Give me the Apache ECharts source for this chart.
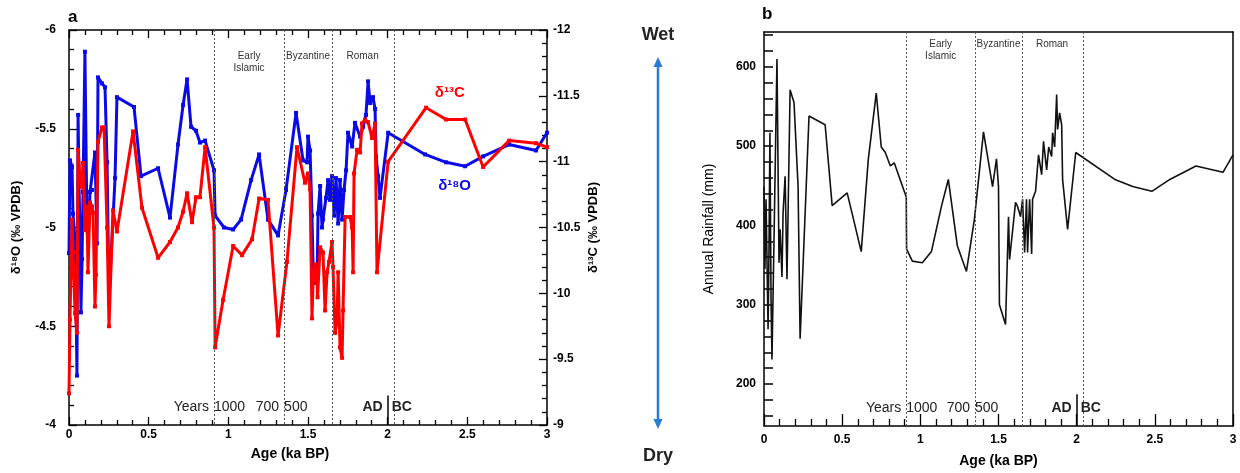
<!DOCTYPE html>
<html><head><meta charset="utf-8">
<script src="https://cdn.jsdelivr.net/npm/echarts@6/dist/echarts.min.js"></script>
<style>html,body{margin:0;padding:0;background:#fff}#c{width:1240px;height:473px}</style>
</head><body><div id="c"></div>
<script>
// ---- data ----
const o18Age = [0.000,0.006,0.019,0.025,0.038,0.044,0.050,0.057,0.063,0.069,0.075,0.082,0.088,0.100,0.113,0.119,0.132,0.144,0.163,0.176,0.182,0.207,0.226,0.239,0.251,0.289,0.301,0.408,0.452,0.559,0.634,0.684,0.716,0.741,0.766,0.797,0.822,0.854,0.910,0.917,0.973,1.030,1.080,1.143,1.193,1.249,1.312,1.362,1.425,1.469,1.494,1.500,1.513,1.525,1.532,1.538,1.557,1.563,1.576,1.588,1.594,1.613,1.626,1.638,1.651,1.664,1.676,1.689,1.701,1.714,1.726,1.739,1.751,1.777,1.795,1.827,1.846,1.864,1.877,1.890,1.908,1.921,1.927,1.940,1.952,2.003,2.235,2.367,2.486,2.599,2.762,2.931,3.000];
const o18Val = [-4.87,-5.34,-5.31,-5.07,-4.94,-4.63,-4.25,-5.57,-5.21,-4.97,-4.57,-4.84,-5.18,-5.89,-4.99,-4.93,-5.18,-5.19,-5.38,-4.92,-5.76,-5.73,-5.71,-5.33,-4.64,-5.25,-5.66,-5.61,-5.26,-5.30,-5.05,-5.42,-5.62,-5.75,-5.51,-5.49,-5.43,-5.44,-5.29,-5.06,-5.00,-4.99,-5.04,-5.24,-5.37,-5.04,-4.96,-5.19,-5.58,-5.34,-5.33,-5.46,-5.39,-5.06,-4.81,-4.72,-4.72,-5.07,-5.21,-5.00,-5.04,-5.15,-5.24,-5.14,-5.26,-5.06,-5.25,-5.02,-5.24,-5.04,-5.19,-5.29,-5.48,-5.41,-5.53,-5.46,-5.51,-5.57,-5.74,-5.63,-5.66,-5.60,-5.36,-5.26,-5.15,-5.48,-5.37,-5.33,-5.31,-5.36,-5.42,-5.39,-5.48];
const c13Age = [0.000,0.006,0.019,0.025,0.038,0.050,0.057,0.069,0.082,0.088,0.100,0.113,0.119,0.132,0.144,0.151,0.163,0.169,0.182,0.207,0.220,0.239,0.251,0.276,0.301,0.402,0.458,0.559,0.634,0.684,0.716,0.741,0.772,0.797,0.822,0.854,0.910,0.917,0.967,1.030,1.086,1.149,1.193,1.249,1.312,1.368,1.431,1.481,1.500,1.513,1.525,1.532,1.544,1.557,1.560,1.576,1.594,1.607,1.620,1.632,1.651,1.657,1.670,1.682,1.689,1.701,1.714,1.720,1.733,1.764,1.777,1.783,1.789,1.808,1.827,1.839,1.858,1.877,1.902,1.921,1.933,2.003,2.241,2.367,2.486,2.599,2.762,2.931,3.000];
const c13Val = [-9.24,-9.80,-10.56,-10.31,-9.85,-9.70,-11.09,-10.88,-10.81,-10.99,-10.48,-10.66,-10.16,-10.69,-10.66,-10.61,-9.90,-10.14,-11.15,-11.26,-11.26,-10.50,-9.75,-10.63,-10.47,-11.23,-10.65,-10.27,-10.39,-10.50,-10.62,-10.76,-10.54,-10.73,-10.73,-11.11,-10.50,-9.59,-9.95,-10.36,-10.29,-10.41,-10.72,-10.71,-9.68,-10.24,-11.11,-10.84,-10.91,-10.79,-9.81,-10.09,-10.22,-10.10,-9.97,-10.35,-10.31,-9.87,-10.16,-10.24,-10.39,-10.20,-9.70,-9.78,-10.16,-9.59,-9.51,-9.87,-10.58,-10.58,-10.50,-10.16,-10.91,-11.09,-11.07,-11.29,-11.32,-11.30,-11.18,-11.29,-10.16,-11.00,-11.41,-11.32,-11.32,-10.96,-11.16,-11.14,-11.11];
const rainAge = [0.000,0.006,0.013,0.026,0.032,0.038,0.045,0.051,0.064,0.083,0.096,0.103,0.115,0.122,0.135,0.147,0.167,0.192,0.218,0.231,0.288,0.391,0.436,0.532,0.622,0.667,0.718,0.750,0.776,0.808,0.833,0.910,0.912,0.949,1.013,1.071,1.135,1.179,1.237,1.295,1.346,1.404,1.462,1.487,1.500,1.506,1.545,1.564,1.571,1.609,1.622,1.641,1.654,1.667,1.679,1.686,1.699,1.712,1.718,1.737,1.756,1.776,1.788,1.808,1.821,1.840,1.846,1.859,1.872,1.878,1.891,1.904,1.910,1.942,1.994,2.244,2.359,2.481,2.596,2.763,2.936,3.000];
const rainVal = [449,345,433,269,370,517,307,231,382,610,353,395,335,416,462,332,571,555,449,257,538,527,425,441,367,483,567,499,492,475,479,436,370,355,353,367,424,458,374,342,408,518,449,484,449,300,275,411,357,429,424,411,433,366,433,366,433,364,433,443,489,464,506,470,499,487,517,499,565,521,542,527,458,395,492,458,449,443,458,475,467,489];
const ageTicks = [0, 0.5, 1, 1.5, 2, 2.5, 3];
const rainTicks = [200, 300, 400, 500, 600];
const periodEdges = [0.91, 1.35, 1.65, 2.035];
const periodNames = ['Early\nIslamic', 'Byzantine', 'Roman'];
const yearMarks = [
  {text: 'Years', at: 0.91, side: 'left'},
  {text: '1000', at: 0.91, side: 'right'},
  {text: '700', at: 1.35, side: 'left'},
  {text: '500', at: 1.35, side: 'right'},
  {text: 'AD', at: 2.0, side: 'left', bold: true},
  {text: 'BC', at: 2.0, side: 'right', bold: true}
];
const adBc = 2.0;

const zip = (a, b) => a.map((v, i) => [v, b[i]]);
const FONT = 'Liberation Sans, Arial, sans-serif';
const lbl = {color: '#000', fontFamily: FONT, fontWeight: 'bold', fontSize: 12};

const chart = echarts.init(document.getElementById('c'), null, {renderer: 'canvas'});

function xAx(grid, pos, showLabel, ticks, nameOpt) {
  return Object.assign({
    type: 'value', gridIndex: grid, position: pos, min: 0, max: 3, interval: 0.5,
    axisLine: {show: true, onZero: false, lineStyle: {color: '#000', width: 1.5}},
    axisTick: {show: ticks, inside: true, length: 8, lineStyle: {color: '#000', width: 1.3}},
    minorTick: {show: ticks, splitNumber: 5, length: 5, lineStyle: {color: '#000', width: 1.3}},
    axisLabel: Object.assign({show: showLabel, margin: 4, formatter: v => String(v)}, lbl),
    splitLine: {show: false}
  }, nameOpt || {});
}

const option = {
  animation: false,
  backgroundColor: '#fff',
  grid: [
    {left: 69, top: 30, width: 478, height: 395},
    {left: 764, top: 32, width: 469, height: 395}
  ],
  xAxis: [
    xAx(0, 'bottom', true, true, {name: 'Age (ka BP)', nameLocation: 'middle', nameGap: 22,
      nameTextStyle: {color: '#000', fontFamily: FONT, fontWeight: 'bold', fontSize: 14, padding: [0, 36, 0, 0]}}),
    xAx(0, 'top', false, true),
    Object.assign(xAx(1, 'bottom', true, true, {name: 'Age (ka BP)', nameLocation: 'middle', nameGap: 28,
      nameTextStyle: {color: '#000', fontFamily: FONT, fontWeight: 'bold', fontSize: 14}}),
      {axisTick: {show: true, inside: true, length: 12, lineStyle: {color: '#000', width: 1.3}},
       minorTick: {show: true, splitNumber: 5, length: 7, lineStyle: {color: '#000', width: 1.3}},
       axisLabel: Object.assign({margin: 8, formatter: v => String(v)}, lbl)}),
    xAx(1, 'top', false, false)
  ],
  yAxis: [
    {type: 'value', gridIndex: 0, position: 'left', min: -6, max: -4, interval: 0.5, inverse: true,
     name: 'δ¹⁸O (‰ VPDB)', nameLocation: 'middle', nameGap: 46, nameRotate: 90,
     nameTextStyle: {color: '#000', fontFamily: FONT, fontWeight: 'bold', fontSize: 13},
     axisLine: {show: true, onZero: false, lineStyle: {color: '#000', width: 1.5}},
     axisTick: {show: true, inside: true, length: 8, lineStyle: {color: '#000', width: 1.3}},
     minorTick: {show: true, splitNumber: 5, length: 5, lineStyle: {color: '#000', width: 1.3}},
     axisLabel: Object.assign({margin: 13, formatter: v => String(v)}, lbl),
     splitLine: {show: false}},
    {type: 'value', gridIndex: 0, position: 'right', min: -12, max: -9, interval: 0.5, inverse: true,
     name: 'δ¹³C (‰ VPDB)', nameLocation: 'middle', nameGap: 40, nameRotate: 90,
     nameTextStyle: {color: '#000', fontFamily: FONT, fontWeight: 'bold', fontSize: 13},
     axisLine: {show: true, onZero: false, lineStyle: {color: '#000', width: 1.5}},
     axisTick: {show: true, inside: true, length: 8, lineStyle: {color: '#000', width: 1.3}},
     minorTick: {show: true, splitNumber: 5, length: 5, lineStyle: {color: '#000', width: 1.3}},
     axisLabel: Object.assign({margin: 6, formatter: v => String(v)}, lbl),
     splitLine: {show: false}},
    {type: 'value', gridIndex: 1, position: 'left', min: 147, max: 644,
     name: 'Annual Rainfall (mm)', nameLocation: 'middle', nameGap: 48, nameRotate: 90,
     nameTextStyle: {color: '#000', fontFamily: FONT, fontSize: 14},
     axisLine: {show: true, onZero: false, lineStyle: {color: '#000', width: 1.5}},
     axisTick: {show: true, inside: true, length: 9, lineStyle: {color: '#000', width: 1.5},
                customValues: [160,180,200,220,240,260,280,300,320,340,360,380,400,420,440,460,480,500,520,540,560,580,600,620,640]},
     axisLabel: Object.assign({margin: 8, customValues: rainTicks, formatter: v => String(v)}, lbl),
     splitLine: {show: false}},
    {type: 'value', gridIndex: 1, position: 'right', min: 147, max: 644,
     axisLine: {show: true, onZero: false, lineStyle: {color: '#000', width: 1.5}},
     axisTick: {show: false}, axisLabel: {show: false}, splitLine: {show: false}}
  ],
  series: [
    {type: 'line', name: 'd18O', xAxisIndex: 0, yAxisIndex: 0, data: zip(o18Age, o18Val),
     symbol: 'rect', symbolSize: 4, itemStyle: {color: '#0a0ae6'},
     lineStyle: {color: '#0a0ae6', width: 3}, z: 3,
     markLine: {silent: true, symbol: 'none', label: {show: false},
       lineStyle: {color: '#555', type: [2, 2], width: 1},
       data: periodEdges.map(e => ({xAxis: e})).concat([[
         {coord: [adBc, -4.15], lineStyle: {type: 'solid', color: '#000', width: 1.5}},
         {coord: [adBc, -4]}]])}},
    {type: 'line', name: 'd13C', xAxisIndex: 0, yAxisIndex: 1, data: zip(c13Age, c13Val),
     symbol: 'rect', symbolSize: 4, itemStyle: {color: '#f00'},
     lineStyle: {color: '#f00', width: 3}, z: 4},
    {type: 'line', name: 'rain', xAxisIndex: 2, yAxisIndex: 2, data: zip(rainAge, rainVal),
     symbol: 'none', lineStyle: {color: '#111', width: 1.6}, z: 3,
     markLine: {silent: true, symbol: 'none', label: {show: false},
       lineStyle: {color: '#555', type: [2, 2], width: 1},
       data: periodEdges.map(e => ({xAxis: e})).concat([[
         {coord: [adBc, 187], lineStyle: {type: 'solid', color: '#000', width: 1.5}},
         {coord: [adBc, 147]}]])}}
  ]
};
chart.setOption(option);

// ---- annotations positioned through the axes ----
const g = [];
function px(xa, ya, x, y) {
  return chart.convertToPixel({xAxisIndex: xa, yAxisIndex: ya}, [x, y]);
}
function addPanelText(xa, ya, top, yearY) {
  for (let i = 0; i < periodNames.length; i++) {
    const mid = (periodEdges[i] + periodEdges[i + 1]) / 2;
    const p = px(xa, ya, mid, 0);
    g.push({type: 'text', x: p[0], y: top, style: {text: periodNames[i], fill: '#333', font: '10px ' + FONT,
      align: 'center', verticalAlign: 'top', lineHeight: 12}});
  }
  yearMarks.forEach(m => {
    const p = px(xa, ya, m.at, 0);
    const off = m.side === 'left' ? -5 : (m.bold ? 4 : 0);
    g.push({type: 'text', x: p[0] + off, y: yearY, style: {text: m.text, fill: '#222',
      font: (m.bold ? 'bold ' : '') + '14px ' + FONT, align: m.side === 'left' ? 'right' : 'left', verticalAlign: 'middle'}});
  });
}
addPanelText(0, 0, 50, 407);
addPanelText(2, 2, 38, 408);

// series name labels
const pC = px(0, 1, 2.39, -11.52);
const pO = px(0, 0, 2.42, -5.21);
g.push({type: 'text', x: pC[0], y: pC[1], style: {text: 'δ¹³C', fill: '#f00', font: 'bold 15px ' + FONT, align: 'center', verticalAlign: 'middle'}});
g.push({type: 'text', x: pO[0], y: pO[1], style: {text: 'δ¹⁸O', fill: '#0a0ae6', font: 'bold 15px ' + FONT, align: 'center', verticalAlign: 'middle'}});

// panel letters
g.push({type: 'text', x: 68, y: 17, style: {text: 'a', fill: '#000', font: 'bold 17px ' + FONT, verticalAlign: 'middle'}});
g.push({type: 'text', x: 762, y: 14, style: {text: 'b', fill: '#000', font: 'bold 17px ' + FONT, verticalAlign: 'middle'}});

// Wet / Dry arrow
const ax = 658, aTop = 57, aBot = 429, ac = '#2a7bd6';
g.push({type: 'text', x: ax, y: 35, style: {text: 'Wet', fill: '#222', font: 'bold 18px ' + FONT, align: 'center', verticalAlign: 'middle'}});
g.push({type: 'text', x: ax, y: 456, style: {text: 'Dry', fill: '#222', font: 'bold 18px ' + FONT, align: 'center', verticalAlign: 'middle'}});
g.push({type: 'line', shape: {x1: ax, y1: aTop + 8, x2: ax, y2: aBot - 8}, style: {stroke: ac, lineWidth: 2.5}});
g.push({type: 'polygon', shape: {points: [[ax, aTop], [ax - 4.5, aTop + 10], [ax + 4.5, aTop + 10]]}, style: {fill: ac}});
g.push({type: 'polygon', shape: {points: [[ax, aBot], [ax - 4.5, aBot - 10], [ax + 4.5, aBot - 10]]}, style: {fill: ac}});

chart.setOption({graphic: {elements: g}});
</script>
</body></html>
